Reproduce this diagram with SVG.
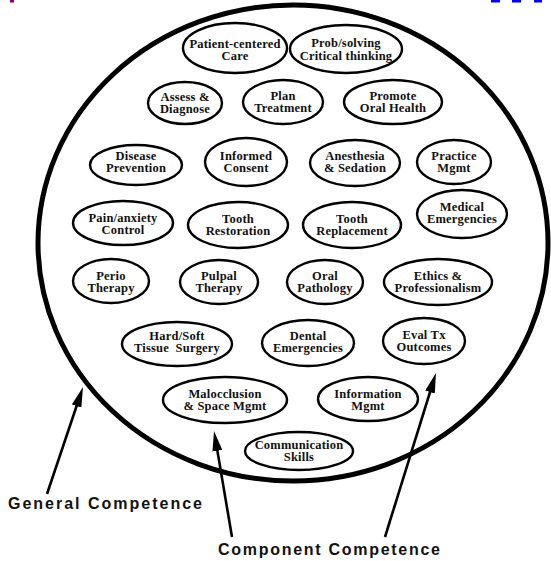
<svg xmlns="http://www.w3.org/2000/svg" width="551" height="561" viewBox="0 0 551 561">
<style>
.n ellipse{fill:#fff;stroke:#000;stroke-width:2.4}
.n text{font-family:"Liberation Serif","Times New Roman",serif;font-weight:bold;font-size:12.5px;text-anchor:middle;fill:#111;letter-spacing:0.2px;white-space:pre}
.lbl{font-family:"Liberation Sans",Arial,sans-serif;font-weight:bold;font-size:16px;fill:#111}
.c line{stroke:#000;stroke-width:2.6;marker-end:url(#ah)}
</style>
<defs>
<marker id="ah" viewBox="0 0 20 10" refX="10" refY="5" markerWidth="20" markerHeight="10" markerUnits="userSpaceOnUse" orient="auto">
<path d="M0,0 L20,5 L0,10 z" fill="#000"/>
</marker>
</defs>
<rect width="551" height="561" fill="#fff"/>
<rect x="10" y="0" width="4" height="2.5" fill="#800080"/>
<rect x="491" y="0" width="9" height="2.5" fill="#0000ff"/>
<rect x="512" y="0" width="9" height="2.5" fill="#0000ff"/>
<rect x="534" y="0" width="8" height="2.5" fill="#0000ff"/>
<g id="general-competence-circle">
<ellipse cx="293" cy="243" rx="255" ry="238" fill="none" stroke="#000" stroke-width="5"/>
</g>
<g id="patient-centered" class="n"><ellipse cx="235" cy="48" rx="52" ry="25"/><text x="235" y="48">Patient-centered</text><text x="235" y="60">Care</text></g>
<g id="prob-solving" class="n"><ellipse cx="346" cy="49" rx="56" ry="24"/><text x="346" y="47">Prob/solving</text><text x="346" y="59.5">Critical thinking</text></g>
<g id="assess-diagnose" class="n"><ellipse cx="185" cy="103" rx="37" ry="21"/><text x="185" y="101">Assess &amp;</text><text x="185" y="113">Diagnose</text></g>
<g id="plan-treatment" class="n"><ellipse cx="283" cy="102" rx="40" ry="22"/><text x="283" y="100">Plan</text><text x="283" y="112">Treatment</text></g>
<g id="promote-oral-health" class="n"><ellipse cx="393" cy="102" rx="49" ry="22"/><text x="393" y="100">Promote</text><text x="393" y="112">Oral Health</text></g>
<g id="disease-prevention" class="n"><ellipse cx="136" cy="165" rx="46" ry="20"/><text x="136" y="160">Disease</text><text x="136" y="172">Prevention</text></g>
<g id="informed-consent" class="n"><ellipse cx="246" cy="162" rx="41" ry="24"/><text x="246" y="160">Informed</text><text x="246" y="172">Consent</text></g>
<g id="anesthesia-sedation" class="n"><ellipse cx="355" cy="163" rx="45" ry="23"/><text x="355" y="160">Anesthesia</text><text x="355" y="172">&amp; Sedation</text></g>
<g id="practice-mgmt" class="n"><ellipse cx="454" cy="162" rx="37" ry="22"/><text x="454" y="160">Practice</text><text x="454" y="172">Mgmt</text></g>
<g id="pain-anxiety" class="n"><ellipse cx="123" cy="223" rx="50" ry="22"/><text x="123" y="222">Pain/anxiety</text><text x="123" y="234">Control</text></g>
<g id="tooth-restoration" class="n"><ellipse cx="238" cy="225" rx="50" ry="23"/><text x="238" y="223">Tooth</text><text x="238" y="235">Restoration</text></g>
<g id="tooth-replacement" class="n"><ellipse cx="352" cy="225" rx="49" ry="23"/><text x="352" y="223">Tooth</text><text x="352" y="235">Replacement</text></g>
<g id="medical-emergencies" class="n"><ellipse cx="462" cy="214" rx="45" ry="24"/><text x="462" y="211">Medical</text><text x="462" y="223">Emergencies</text></g>
<g id="perio-therapy" class="n"><ellipse cx="111" cy="281" rx="38" ry="22"/><text x="111" y="280">Perio</text><text x="111" y="292">Therapy</text></g>
<g id="pulpal-therapy" class="n"><ellipse cx="219" cy="282" rx="39" ry="22"/><text x="219" y="280">Pulpal</text><text x="219" y="292">Therapy</text></g>
<g id="oral-pathology" class="n"><ellipse cx="325" cy="282" rx="38" ry="22"/><text x="325" y="280">Oral</text><text x="325" y="292">Pathology</text></g>
<g id="ethics-professionalism" class="n"><ellipse cx="438" cy="282" rx="54" ry="23"/><text x="438" y="280">Ethics &amp;</text><text x="438" y="292">Professionalism</text></g>
<g id="hard-soft-tissue" class="n"><ellipse cx="177" cy="344" rx="55" ry="22"/><text x="177" y="340">Hard/Soft</text><text x="177" y="352">Tissue  Surgery</text></g>
<g id="dental-emergencies" class="n"><ellipse cx="308" cy="343" rx="46" ry="23"/><text x="308" y="340">Dental</text><text x="308" y="352">Emergencies</text></g>
<g id="eval-tx-outcomes" class="n"><ellipse cx="424" cy="341" rx="41" ry="23"/><text x="424" y="339">Eval Tx</text><text x="424" y="351">Outcomes</text></g>
<g id="malocclusion" class="n"><ellipse cx="225" cy="400" rx="62" ry="23"/><text x="225" y="398">Malocclusion</text><text x="225" y="410">&amp; Space Mgmt</text></g>
<g id="information-mgmt" class="n"><ellipse cx="368" cy="399" rx="50" ry="22"/><text x="368" y="398">Information</text><text x="368" y="410">Mgmt</text></g>
<g id="communication-skills" class="n"><ellipse cx="299" cy="451" rx="54" ry="19"/><text x="299" y="449">Communication</text><text x="299" y="461">Skills</text></g>
<g id="connectors" class="c">
<line x1="47" y1="494" x2="79.8" y2="396.5"/>
<line x1="232" y1="537" x2="215.7" y2="440.9"/>
<line x1="385" y1="537" x2="433" y2="382.5"/>
</g>
<g id="labels">
<text class="lbl" x="8" y="509" textLength="194" lengthAdjust="spacing">General  Competence</text>
<text class="lbl" x="218" y="555" textLength="222" lengthAdjust="spacing">Component  Competence</text>
</g>
</svg>
